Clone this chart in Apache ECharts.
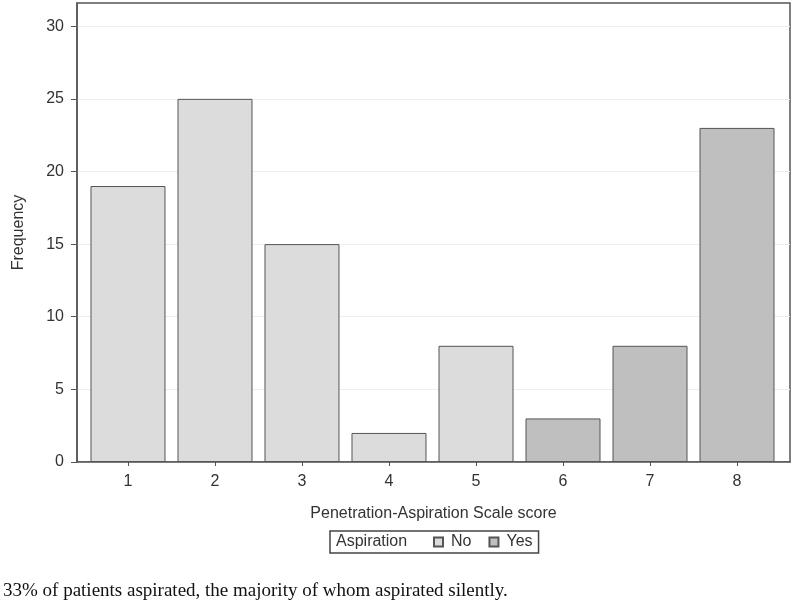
<!DOCTYPE html>
<html><head><meta charset="utf-8">
<script src="https://cdn.jsdelivr.net/npm/echarts@6/dist/echarts.min.js"></script>
<style>html,body{margin:0;padding:0;background:#fff}#c{width:800px;height:613px}</style>
</head><body><div id="c"></div>
<script>
const categories = [1, 2, 3, 4, 5, 6, 7, 8];
const noValues = [19, 25, 15, 2, 8, null, null, null];
const yesValues = [null, null, null, null, null, 3, 8, 23];
const yTicks = [0, 5, 10, 15, 20, 25, 30];
const legendTitle = 'Aspiration';
const caption = '33% of patients aspirated, the majority of whom aspirated silently.';

const chart = echarts.init(document.getElementById('c'));
const font = '"Liberation Sans", Arial, sans-serif';
function pairs(vals){ return categories.map((c,i)=> vals[i]==null ? null : [c, vals[i]]).filter(d=>d); }
chart.setOption({
  animation: false,
  backgroundColor: '#fff',
  grid: {left: 77, right: 10, top: 3, bottom: 151, show: true, borderColor: '#555', borderWidth: 1.5, backgroundColor: 'transparent'},
  xAxis: {
    type: 'value', min: 0.414, max: 8.609, interval: 1,
    name: 'Penetration-Aspiration Scale score', nameLocation: 'middle', nameGap: 44,
    nameTextStyle: {fontFamily: font, fontSize: 16, color: '#333'},
    axisLine: {show: true, lineStyle: {color: '#555', width: 1.5}},
    axisTick: {show: true, length: 4, lineStyle: {color: '#555'}, customValues: categories},
    axisLabel: {fontFamily: font, fontSize: 16, color: '#333', margin: 12, customValues: categories},
    splitLine: {show: false}
  },
  yAxis: {
    type: 'value', min: 0, max: 31.6, interval: 5,
    name: 'Frequency', nameLocation: 'middle', nameGap: 50, nameRotate: 90,
    nameTextStyle: {fontFamily: font, fontSize: 16, color: '#333'},
    axisLine: {show: true, lineStyle: {color: '#555', width: 1.5}},
    axisTick: {show: true, length: 6, lineStyle: {color: '#555'}, customValues: yTicks},
    axisLabel: {fontFamily: font, fontSize: 16, color: '#333', margin: 13, customValues: yTicks},
    splitLine: {show: true, lineStyle: {color: '#eeeeee', width: 1}}
  },
  legend: {
    left: 330, top: 531, orient: 'horizontal',
    padding: [3, 6, 3, 103], itemGap: 17, itemWidth: 9, itemHeight: 9,
    borderColor: '#444', borderWidth: 1.5,
    textStyle: {fontFamily: font, fontSize: 16, color: '#333', padding: [0, 0, 0, 3]},
    data: [{name: 'No', icon: 'rect'}, {name: 'Yes', icon: 'rect'}]
  },
  graphic: [
    {type: 'text', left: 336, top: 534, style: {text: legendTitle, font: '16px ' + font, fill: '#333'}},
    {type: 'text', left: 3, top: 582, style: {text: caption, font: '19px "Liberation Serif", "Times New Roman", serif', fill: '#111'}}
  ],
  series: [
    {name: 'No', type: 'bar', barWidth: 75, barGap: '-100%', data: pairs(noValues),
     itemStyle: {color: '#dcdcdc', borderColor: '#555', borderWidth: 1}},
    {name: 'Yes', type: 'bar', barWidth: 75, barGap: '-100%', data: pairs(yesValues),
     itemStyle: {color: '#bfbfbf', borderColor: '#555', borderWidth: 1}}
  ]
});
</script></body></html>
